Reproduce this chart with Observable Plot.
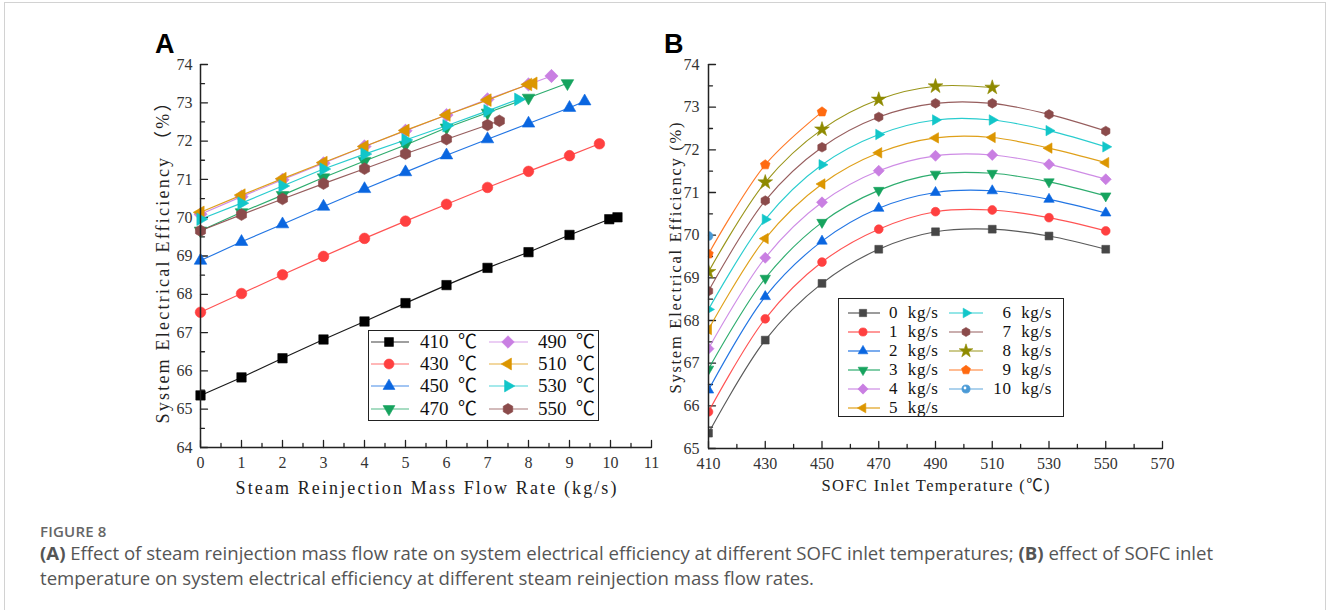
<!DOCTYPE html>
<html><head><meta charset="utf-8">
<script src="https://cdn.jsdelivr.net/npm/d3@7"></script>
<script src="https://cdn.jsdelivr.net/npm/@observablehq/plot@0.6"></script>
<style>
html,body{margin:0;padding:0;background:#fff;}
body{width:1328px;height:610px;position:relative;overflow:hidden;}
#frame{position:absolute;left:4px;top:2px;width:1322px;height:700px;border:1px solid #d2d2d2;box-sizing:border-box;}
.panel{position:absolute;top:30px;}
.tag{position:absolute;font-family:"Liberation Sans",Arial,sans-serif;font-weight:bold;font-size:27px;color:#000;line-height:27px;}
.legend{position:absolute;border:1.4px solid #222;background:#fff;box-sizing:border-box;}
.lt{position:absolute;font-family:"Liberation Serif","Noto Sans CJK SC",serif;color:#111;white-space:pre;}
.cap1{position:absolute;left:40px;top:521px;font-family:"Open Sans",sans-serif;font-size:15px;font-weight:600;color:#666;letter-spacing:0.2px;}
.cap2{position:absolute;left:40px;top:540px;font-family:"Open Sans",sans-serif;font-size:18.6px;line-height:25px;color:#555;white-space:nowrap;}
</style></head>
<body>
<div id="frame"></div>
<div class="tag" style="left:155px;top:31px">A</div>
<div class="tag" style="left:664px;top:31px">B</div>
<div id="A" class="panel" style="left:140px"></div>
<div id="B" class="panel" style="left:660px"></div>
<div class="cap1">FIGURE 8</div>
<div class="cap2"><b>(A)</b> Effect of steam reinjection mass flow rate on system electrical efficiency at different SOFC inlet temperatures; <b>(B)</b> effect of SOFC inlet<br>temperature on system electrical efficiency at different steam reinjection mass flow rates.</div>
<script>
// ---------------- Panel A data (x: steam reinjection mass flow rate, kg/s) ----------------
const labelsA = ["410 ℃","430 ℃","450 ℃","470 ℃","490 ℃","510 ℃","530 ℃","550 ℃"];
const xA410 = [0,1,2,3,4,5,6,7,8,9,9.97,10.17];
const yA410 = [65.36,65.83,66.33,66.82,67.29,67.77,68.24,68.69,69.10,69.55,69.96,70.01];
const xA430 = [0,1,2,3,4,5,6,7,8,9,9.73];
const yA430 = [67.53,68.02,68.51,68.99,69.46,69.91,70.35,70.79,71.21,71.62,71.93];
const xA450 = [0,1,2,3,4,5,6,7,8,9,9.37];
const yA450 = [68.88,69.37,69.83,70.29,70.75,71.19,71.63,72.05,72.46,72.87,73.04];
const xA470 = [0,1,2,3,4,5,6,7,8,8.95];
const yA470 = [69.66,70.14,70.59,71.05,71.48,71.90,72.35,72.74,73.13,73.51];
const xA490 = [0,1,2,3,4,5,6,7,8,8.56];
const yA490 = [70.09,70.55,70.99,71.42,71.86,72.27,72.68,73.09,73.48,73.70];
const xA510 = [0,1,2,3,4,5,6,7,7.99,8.12];
const yA510 = [70.14,70.59,71.02,71.44,71.86,72.28,72.68,73.07,73.48,73.51];
const xA530 = [0,1,2,3,4,5,6,7,7.75];
const yA530 = [69.96,70.38,70.83,71.27,71.66,72.03,72.40,72.79,73.09];
const xA550 = [0,1,2,3,4,5,6,7,7.29];
const yA550 = [69.66,70.08,70.49,70.89,71.28,71.67,72.05,72.42,72.53];
const xTicksA = [0,1,2,3,4,5,6,7,8,9,10,11];
const xMinorA = [0.5,1.5,2.5,3.5,4.5,5.5,6.5,7.5,8.5,9.5,10.5];
const yTicksA = [64,65,66,67,68,69,70,71,72,73,74];
const yMinorA = [64.5,65.5,66.5,67.5,68.5,69.5,70.5,71.5,72.5,73.5];

// ---------------- Panel B data (x: SOFC inlet temperature, ℃) ----------------
const labelsB = ["0 kg/s","1 kg/s","2 kg/s","3 kg/s","4 kg/s","5 kg/s","6 kg/s","7 kg/s","8 kg/s","9 kg/s","10 kg/s"];
const tempsB = [410,430,450,470,490,510,530,550];
const yB0 = [65.36,67.54,68.87,69.67,70.08,70.14,69.98,69.67];
const yB1 = [65.86,68.04,69.37,70.14,70.55,70.59,70.41,70.10];
const yB2 = [66.37,68.56,69.86,70.63,71.00,71.04,70.84,70.52];
const yB3 = [66.86,68.99,70.30,71.05,71.43,71.45,71.25,70.92];
const yB4 = [67.34,69.47,70.77,71.51,71.86,71.88,71.66,71.31];
const yB5 = [67.79,69.92,71.20,71.93,72.28,72.29,72.04,71.70];
const yB6 = [68.26,70.37,71.65,72.36,72.70,72.70,72.45,72.07];
const yB7 = [68.69,70.81,72.06,72.77,73.09,73.09,72.83,72.44];
const yB8 = [69.14,71.24,72.48,73.18,73.49,73.46];
const yB9 = [69.56,71.65,72.89];
const yB10 = [69.98];
const xTicksB = [410,430,450,470,490,510,530,550,570];
const xMinorB = [420,440,460,480,500,520,540,560];
const yTicksB = [65,66,67,68,69,70,71,72,73,74];
const yMinorB = [65.5,66.5,67.5,68.5,69.5,70.5,71.5,72.5,73.5];

// ---------------- styles ----------------
const hexagon = {draw(ctx, size){const R=Math.sqrt(size/(1.5*Math.sqrt(3)));for(let i=0;i<6;i++){const a=-Math.PI/2+i*Math.PI/3;const x=R*Math.cos(a),y=R*Math.sin(a);i?ctx.lineTo(x,y):ctx.moveTo(x,y);}ctx.closePath();}};
const pentagon = {draw(ctx, size){const R=Math.sqrt(size/(2.5*Math.sin(2*Math.PI/5)));for(let i=0;i<5;i++){const a=-Math.PI/2+i*2*Math.PI/5;const x=R*Math.cos(a),y=R*Math.sin(a);i?ctx.lineTo(x,y):ctx.moveTo(x,y);}ctx.closePath();}};
const C = {black:"#000000", grey:"#474747", red:"#ff4040", blue:"#0a66e0", green:"#16a35e", violet:"#c97fe2", gold:"#dc9600", cyan:"#12c6c9", brown:"#8b4b4b", olive:"#8e8a00", orange:"#ff6a10", lblue:"#4a9ad6"};
const M = {
  square:{sym:d3.symbolSquare, rot:0, k:1},
  circle:{sym:d3.symbolCircle, rot:0, k:1},
  up:{sym:d3.symbolTriangle, rot:0, k:0.88},
  down:{sym:d3.symbolTriangle, rot:180, k:0.88},
  left:{sym:d3.symbolTriangle, rot:-90, k:0.88},
  right:{sym:d3.symbolTriangle, rot:90, k:0.88},
  diamond:{sym:d3.symbolSquare, rot:45, k:1},
  hexagon:{sym:hexagon, rot:0, k:1},
  star:{sym:d3.symbolStar, rot:0, k:1.05},
  pentagon:{sym:pentagon, rot:0, k:1},
  sphere:{sym:d3.symbolCircle, rot:0, k:1}
};
const seriesA = [
  {label:labelsA[0], x:xA410, y:yA410, color:C.black, m:"square"},
  {label:labelsA[1], x:xA430, y:yA430, color:C.red, m:"circle"},
  {label:labelsA[2], x:xA450, y:yA450, color:C.blue, m:"up"},
  {label:labelsA[3], x:xA470, y:yA470, color:C.green, m:"down"},
  {label:labelsA[4], x:xA490, y:yA490, color:C.violet, m:"diamond"},
  {label:labelsA[5], x:xA510, y:yA510, color:C.gold, m:"left"},
  {label:labelsA[6], x:xA530, y:yA530, color:C.cyan, m:"right"},
  {label:labelsA[7], x:xA550, y:yA550, color:C.brown, m:"hexagon"}
];
const yBs = [yB0,yB1,yB2,yB3,yB4,yB5,yB6,yB7,yB8,yB9,yB10];
const colB = [C.grey,C.red,C.blue,C.green,C.violet,C.gold,C.cyan,C.brown,C.olive,C.orange,C.lblue];
const mB = ["square","circle","up","down","diamond","left","right","hexagon","star","pentagon","sphere"];
const seriesB = yBs.map((ys,i)=>({label:labelsB[i], x:tempsB.slice(0,ys.length), y:ys, color:colB[i], m:mB[i]}));

function panel(o){
  const marks = [];
  marks.push(Plot.axisX({ticks:o.xMajor, tickSize:0, tickPadding:o.xPad, tickFormat:d=>String(d), fontSize:o.tickFont, label:null}));
  marks.push(Plot.axisY({ticks:o.yMajor, tickSize:0, tickPadding:o.yPad, tickFormat:d=>String(d), fontSize:o.tickFont, label:null}));
  marks.push(Plot.vector(o.xMajor,{x:d=>d, frameAnchor:"bottom", length:7, anchor:"start", rotate:0, r:0, stroke:"#222", strokeWidth:1.3}));
  marks.push(Plot.vector(o.xMinor,{x:d=>d, frameAnchor:"bottom", length:4, anchor:"start", rotate:0, r:0, stroke:"#222", strokeWidth:1.3}));
  marks.push(Plot.vector(o.yMajor,{y:d=>d, frameAnchor:"left", length:7, anchor:"start", rotate:90, r:0, stroke:"#222", strokeWidth:1.3}));
  marks.push(Plot.vector(o.yMinor,{y:d=>d, frameAnchor:"left", length:4, anchor:"start", rotate:90, r:0, stroke:"#222", strokeWidth:1.3}));
  for (const s of o.series){
    const data = s.x.map((x,i)=>({x, y:s.y[i]}));
    const mk = M[s.m];
    if (data.length>1) marks.push(Plot.line(data,{x:"x", y:"y", stroke:s.color, strokeWidth:1.15, strokeOpacity:0.9, curve:o.curve, clip:o.clip}));
    marks.push(Plot.dot(data,{x:"x", y:"y", symbol:mk.sym, rotate:mk.rot, r:o.r*mk.k, fill:s.color, stroke:s.color, strokeWidth:0.6, clip:o.clip}));
    if (s.m==="sphere") marks.push(Plot.dot(data,{x:"x", y:"y", r:1.4, fill:"#ffffff", dx:-1, dy:-1, clip:o.clip}));
  }
  marks.push(Plot.ruleY([o.yDomain[0]],{stroke:"#222", strokeWidth:1.5}));
  marks.push(Plot.ruleX([o.xDomain[0]],{stroke:"#222", strokeWidth:1.5}));
  marks.push(Plot.text([o.xLabel],{frameAnchor:"bottom", textAnchor:"middle", dy:o.xLabDy, lineAnchor:"middle", fontSize:o.labFont, fill:"#222"}));
  marks.push(Plot.text([o.yLabel],{frameAnchor:"left", textAnchor:"middle", dx:o.yLabDx, dy:o.yLabDy, rotate:-90, lineAnchor:"middle", fontSize:o.labFont, fill:"#222"}));
  const svg = Plot.plot({
    width:o.width, height:o.height,
    marginLeft:o.ml, marginRight:o.mr, marginTop:o.mt, marginBottom:o.mb,
    x:{domain:o.xDomain}, y:{domain:o.yDomain},
    style:{fontFamily:'"Liberation Serif", "Noto Sans CJK SC", serif', color:"#333", background:"transparent", overflow:"visible"},
    marks
  });
  d3.select(svg).selectAll("text").each(function(){
    const t = this.textContent;
    if (t===o.xLabel){ d3.select(this).attr("textLength",o.xLabLen).attr("lengthAdjust","spacing"); }
    if (t===o.yLabel){ d3.select(this).attr("textLength",o.yLabLen).attr("lengthAdjust","spacing"); }
  });
  return svg;
}

document.getElementById("A").appendChild(panel({
  series:seriesA, width:530, height:480, ml:60, mr:19, mt:34, mb:63,
  xDomain:[0,11], yDomain:[64,74], xMajor:xTicksA, xMinor:xMinorA, yMajor:yTicksA, yMinor:yMinorA,
  xPad:9, yPad:8, tickFont:16, r:5.3, curve:"linear", clip:false,
  xLabel:"Steam Reinjection Mass Flow Rate (kg/s)", yLabel:"System Electrical Efficiency （%）",
  xLabDy:41, yLabDx:-37, yLabDy:2.5, labFont:18, xLabLen:381, yLabLen:330
}));
document.getElementById("B").appendChild(panel({
  series:seriesB, width:530, height:480, ml:48, mr:28, mt:34, mb:62,
  xDomain:[410,570], yDomain:[65,74], xMajor:xTicksB, xMinor:xMinorB, yMajor:yTicksB, yMinor:yMinorB,
  xPad:9, yPad:9, tickFont:16, r:4.4, curve:"catmull-rom", clip:true,
  xLabel:"SOFC Inlet Temperature (℃)", yLabel:"System Electrical Efficiency (%)",
  xLabDy:37, yLabDx:-33, yLabDy:1.5, labFont:16.5, xLabLen:228, yLabLen:271
}));

// ---------------- legends ----------------
function legend(o){
  const box = document.createElement("div");
  box.className = "legend";
  Object.assign(box.style,{left:o.left+"px", top:o.top+"px", width:o.w+"px", height:o.h+"px"});
  o.series.forEach((s,i)=>{
    const col = i < o.perCol ? 0 : 1, row = i % o.perCol;
    const cy = o.row0 + row*o.dy;
    const c = o.cols[col];
    const svg = d3.create("svg").attr("width",c.l1-c.l0+12).attr("height",20)
      .style("position","absolute").style("left",(c.l0-6)+"px").style("top",(cy-10)+"px").style("overflow","visible");
    svg.append("line").attr("x1",6).attr("x2",c.l1-c.l0+6).attr("y1",10).attr("y2",10).attr("stroke",s.color).attr("stroke-width",1.2).attr("stroke-opacity",o.lineOp);
    const mk = M[s.m];
    const rr = o.r*mk.k;
    svg.append("path").attr("d",d3.symbol(mk.sym, rr*rr*Math.PI)())
      .attr("transform",`translate(${c.m-c.l0+6},10) rotate(${mk.rot})`).attr("fill",s.color).attr("stroke",s.color).attr("stroke-width",0.6);
    if (s.m==="sphere") svg.append("circle").attr("cx",c.m-c.l0+5).attr("cy",9).attr("r",1.4).attr("fill","#fff");
    box.appendChild(svg.node());
    const t = document.createElement("div");
    t.className = "lt";
    t.textContent = s.label.replace(" ", o.gap);
    Object.assign(t.style,{fontSize:o.font+"px", lineHeight:"20px", top:(cy-10)+"px", letterSpacing:o.ls+"px"});
    if (c.right!==undefined){ t.style.right = (o.w - c.right)+"px"; } else { t.style.left = c.t+"px"; }
    box.appendChild(t);
  });
  document.body.appendChild(box);
}
legend({series:seriesA, left:368, top:330, w:231, h:91, perCol:4, row0:11, dy:22.2, r:5.0, font:19, gap:"  ", ls:0, lineOp:0.75,
  cols:[{l0:2,l1:40,m:20,t:51},{l0:120,l1:159,m:139,t:169}]});
legend({series:seriesB, left:838, top:298, w:226, h:119, perCol:6, row0:14, dy:18.9, r:4.1, font:17, gap:"  ", ls:0.6, lineOp:0.9,
  cols:[{l0:9,l1:41,m:24,t:50},{l0:110,l1:144,m:127,right:215}]});
</script>
</body></html>
